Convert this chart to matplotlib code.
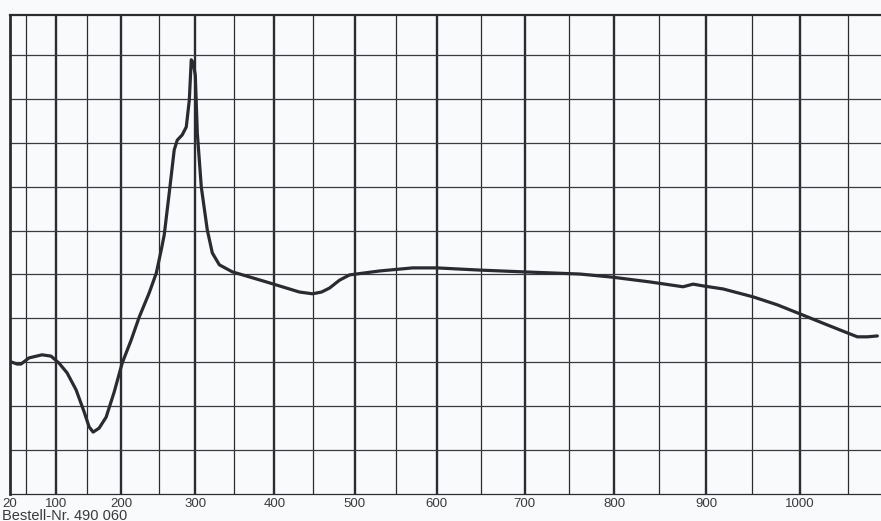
import numpy as np
import matplotlib
matplotlib.use("Agg")
import matplotlib.pyplot as plt

# recorder paper scale: printed temperature marks and where they sit across the paper
scale_temp = [20, 50, 100, 150, 200, 250, 300, 350, 400, 450, 500, 550,
              600, 650, 700, 750, 800, 850, 900, 950, 1000, 1050, 1100]
scale_pos = [11, 27, 57, 88, 122, 160, 196, 235, 275, 314, 355, 396,
             437, 481, 525, 569, 614, 659, 706, 752, 800, 848, 896]

tick_values = [20, 100, 200, 300, 400, 500, 600, 700, 800, 900, 1000]
tick_labels = ["20", "100", "200", "300", "400", "500", "600", "700", "800", "900", "1000"]
minor_lines = [50, 150, 250, 350, 450, 550, 650, 750, 850, 950, 1050]
major_lines = [100, 200, 300, 400, 500, 600, 700, 800, 900, 1000]
h_lines = [1, 2, 3, 4, 5, 6, 7, 8, 9, 10]

# trace (temperature, divisions)
temp = [21.9, 33.1, 40.6, 55.0, 76.7, 91.7, 104.8, 117.7, 132.3, 145.2, 152.9, 158.8,
        167.6, 177.9, 189.7, 201.3, 213.2, 223.7, 236.8, 246.1, 252.8, 256.9, 263.9,
        270.8, 275.0, 281.9, 287.5, 291.7, 294.4, 297.2, 300.0, 302.6, 307.7, 315.4,
        321.8, 330.8, 347.4, 390.0, 432.1, 448.7, 459.8, 469.5, 481.7, 493.9, 530.5,
        570.7, 600.0, 648.9, 697.7, 762.2, 797.8, 840.0, 875.5, 886.2, 896.8, 918.5,
        951.0, 976.0, 1000.0, 1026.0, 1049.0, 1059.4, 1069.8, 1080.2]
signal = [3.01, 2.96, 2.96, 3.10, 3.17, 3.14, 2.98, 2.76, 2.37, 1.87, 1.53, 1.41,
          1.50, 1.75, 2.32, 2.98, 3.51, 4.03, 4.58, 5.03, 5.56, 5.90, 6.86,
          7.84, 8.06, 8.18, 8.36, 8.97, 9.89, 9.82, 9.54, 8.22, 6.99, 6.01,
          5.49, 5.22, 5.06, 4.83, 4.60, 4.56, 4.60, 4.69, 4.87, 4.99, 5.08,
          5.15, 5.15, 5.10, 5.06, 5.01, 4.94, 4.83, 4.72, 4.78, 4.74, 4.67,
          4.49, 4.31, 4.10, 3.87, 3.67, 3.58, 3.58, 3.60]


def forward(t):
    return np.interp(t, scale_temp, scale_pos)


def inverse(p):
    return np.interp(p, scale_pos, scale_temp)


plt.rcParams['font.family'] = ['Liberation Sans', 'DejaVu Sans']

fig = plt.figure(figsize=(8.81, 5.21), dpi=100)
fig.patch.set_facecolor("#f9fafc")
ax = fig.add_axes([10 / 881, 27 / 521, 871 / 881, 479 / 521])
ax.set_facecolor("#f9fafc")
ax.set_xscale("function", functions=(forward, inverse))
ax.set_xlim(19.5, 1084)
ax.set_ylim(0, 10.91)

grid_col = "#2b2b30"
for v in minor_lines:
    ax.axvline(v, color=grid_col, lw=0.9, zorder=1)
for v in major_lines:
    ax.axvline(v, color=grid_col, lw=1.7, zorder=1)
for h in h_lines:
    ax.axhline(h, color="#3a3a40", lw=0.9, zorder=1)

ax.plot(temp, signal, color="#2a2a30", lw=2.3, solid_capstyle="round",
        solid_joinstyle="round", zorder=3)

for side in ["top", "left", "bottom"]:
    ax.spines[side].set_color(grid_col)
ax.spines["top"].set_linewidth(1.6)
ax.spines["left"].set_linewidth(2.0)
ax.spines["bottom"].set_linewidth(0.9)
ax.spines["right"].set_visible(False)

ax.set_xticks(tick_values)
ax.set_xticklabels(tick_labels)
ax.tick_params(axis="x", length=0, pad=3, labelsize=9.5, labelcolor="#3a3a3a")
ax.xaxis.set_minor_locator(plt.NullLocator())
ax.set_yticks([])

fig.text(0.002, 1.5 / 521, "Bestell-Nr. 490 060", fontsize=10.5, color="#3a3a3a",
         ha="left", va="baseline")

fig.savefig("out.png", dpi=100, facecolor=fig.get_facecolor())
